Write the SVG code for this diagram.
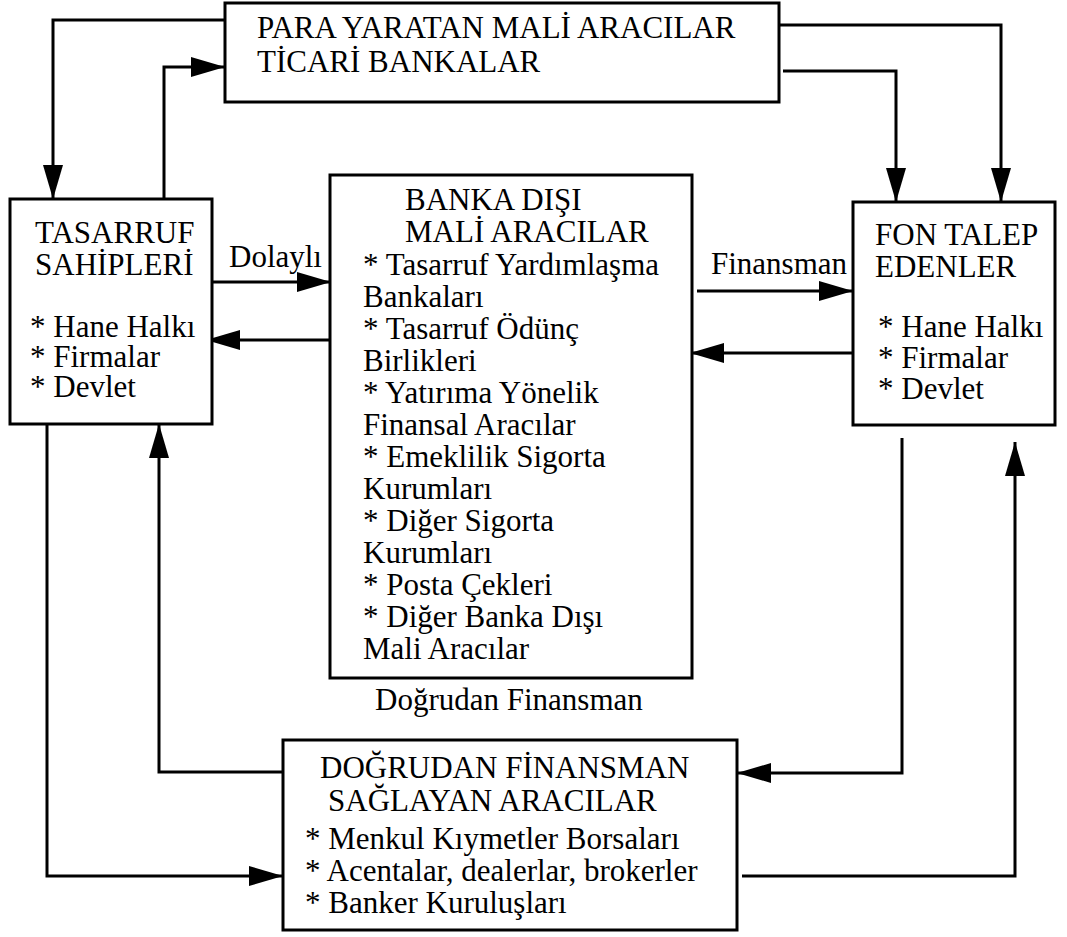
<svg xmlns="http://www.w3.org/2000/svg" width="1067" height="937" viewBox="0 0 1067 937" font-family="'Liberation Serif', 'DejaVu Serif', serif">
  <style>
    text { font-family: "Liberation Serif", "DejaVu Serif", serif; font-size: 31px; fill: #000; }
    .box { fill: #fff; stroke: #000; stroke-width: 3; }
    .conn { fill: none; stroke: #000; stroke-width: 3; stroke-linejoin: miter; }
    .arr { marker-end: url(#ah); }
  </style>
  <defs>
    <marker id="ah" markerUnits="userSpaceOnUse" markerWidth="36" markerHeight="20" refX="34" refY="10" orient="auto">
      <path d="M0,0 L34,10 L0,20 z" fill="#000"/>
    </marker>
  </defs>
  <rect width="1067" height="937" fill="#fff"/>

  <g id="connectors">
    <path class="conn arr" d="M225,20 H53 V199"/>
    <path class="conn arr" d="M164,199 V67 H225"/>
    <path class="conn arr" d="M779,25 H1001 V202"/>
    <path class="conn arr" d="M783,71 H896 V202"/>
    <path class="conn arr" d="M212,282 H331"/>
    <path class="conn arr" d="M330,340 H206"/>
    <path class="conn arr" d="M697,291 H853"/>
    <path class="conn arr" d="M853,353 H690"/>
    <path class="conn arr" d="M47,424 V876 H283"/>
    <path class="conn arr" d="M283,772 H159 V424"/>
    <path class="conn arr" d="M902,438 V773 H737"/>
    <path class="conn arr" d="M742,876 H1015 V442"/>
  </g>

  <g id="node-para">
    <rect class="box" x="225" y="3" width="554" height="99"/>
    <text x="257" y="38">PARA YARATAN MALİ ARACILAR</text>
    <text x="257" y="72">TİCARİ BANKALAR</text>
  </g>

  <g id="node-tasarruf">
    <rect class="box" x="10" y="199" width="202" height="225"/>
    <text x="35" y="243">TASARRUF</text>
    <text x="35" y="275">SAHİPLERİ</text>
    <text x="30" y="337">* Hane Halkı</text>
    <text x="30" y="367">* Firmalar</text>
    <text x="30" y="397">* Devlet</text>
  </g>

  <g id="node-banka">
    <rect class="box" x="330" y="175" width="362" height="503"/>
    <text x="405" y="210">BANKA DIŞI</text>
    <text x="405" y="242">MALİ ARACILAR</text>
    <text x="363" y="275">* Tasarruf Yardımlaşma</text>
    <text x="363" y="307">Bankaları</text>
    <text x="363" y="339">* Tasarruf Ödünç</text>
    <text x="363" y="371">Birlikleri</text>
    <text x="363" y="403">* Yatırıma Yönelik</text>
    <text x="363" y="435">Finansal Aracılar</text>
    <text x="363" y="467">* Emeklilik Sigorta</text>
    <text x="363" y="499">Kurumları</text>
    <text x="363" y="531">* Diğer Sigorta</text>
    <text x="363" y="563">Kurumları</text>
    <text x="363" y="595">* Posta Çekleri</text>
    <text x="363" y="627">* Diğer Banka Dışı</text>
    <text x="363" y="659">Mali Aracılar</text>
  </g>

  <g id="node-fon">
    <rect class="box" x="853" y="202" width="202" height="223"/>
    <text x="875" y="245">FON TALEP</text>
    <text x="875" y="277">EDENLER</text>
    <text x="878" y="337">* Hane Halkı</text>
    <text x="878" y="368">* Firmalar</text>
    <text x="878" y="399">* Devlet</text>
  </g>

  <g id="node-dogrudan">
    <rect class="box" x="283" y="740" width="454" height="190"/>
    <text x="320" y="778">DOĞRUDAN FİNANSMAN</text>
    <text x="328" y="811">SAĞLAYAN ARACILAR</text>
    <text x="305" y="849">* Menkul Kıymetler Borsaları</text>
    <text x="305" y="881">* Acentalar, dealerlar, brokerler</text>
    <text x="305" y="913">* Banker Kuruluşları</text>
  </g>

  <g id="labels">
    <text x="229" y="267">Dolaylı</text>
    <text x="711" y="274">Finansman</text>
    <text x="375" y="710">Doğrudan Finansman</text>
  </g>
</svg>
